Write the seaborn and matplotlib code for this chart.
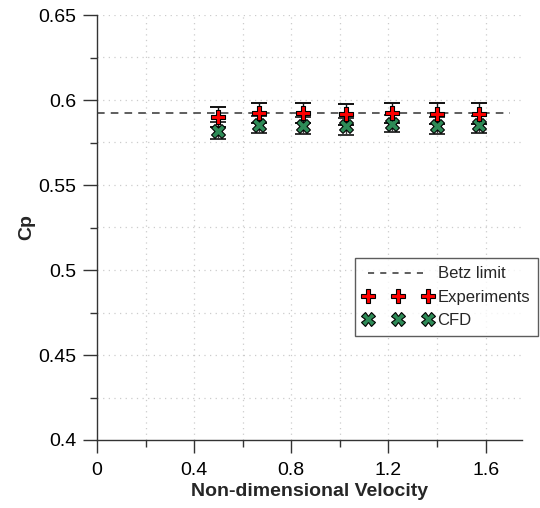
import numpy as np
import pandas as pd
import matplotlib
matplotlib.use("Agg")
import matplotlib.pyplot as plt
from matplotlib.lines import Line2D
from matplotlib.ticker import MultipleLocator, FixedLocator
import seaborn as sns

# Data
velocity = [0.50, 0.665, 0.848, 1.025, 1.215, 1.40, 1.572]
cp_exp = [0.590, 0.5925, 0.5925, 0.5915, 0.5925, 0.592, 0.592]
cp_cfd = [0.582, 0.5855, 0.585, 0.5845, 0.586, 0.585, 0.5855]
err_exp = [0.006, 0.006, 0.006, 0.006, 0.006, 0.006, 0.006]
err_cfd = [0.005, 0.005, 0.005, 0.005, 0.005, 0.005, 0.005]
betz_x = [0.0, 1.70]
betz_cp = [16 / 27, 16 / 27]

x_ticks = [0, 0.4, 0.8, 1.2, 1.6]
x_ticklabels = ["0", "0.4", "0.8", "1.2", "1.6"]
y_ticks = [0.4, 0.45, 0.5, 0.55, 0.6, 0.65]
y_ticklabels = ["0.4", "0.45", "0.5", "0.55", "0.6", "0.65"]

sns.set_theme(style="white")
plt.rcParams["font.family"] = ["Liberation Sans", "DejaVu Sans"]

fig = plt.figure(figsize=(5.4, 5.08), dpi=100)
ax = fig.add_axes([97 / 540, 1 - 440 / 508, 425 / 540, 425 / 508])

df = pd.DataFrame({"v": velocity, "exp": cp_exp, "cfd": cp_cfd})
betz_df = pd.DataFrame({"v": betz_x, "cp": betz_cp})

# grid
for gx in np.arange(0.2, 1.75, 0.2):
    ax.axvline(gx, color="#cccccc", lw=0.9, ls=(0, (1, 3.5)), zorder=0)
for gy in np.arange(0.425, 0.651, 0.025):
    ax.axhline(gy, color="#cccccc", lw=0.9, ls=(0, (1, 3.5)), zorder=0)

sns.lineplot(data=betz_df, x="v", y="cp", ax=ax, color="#333333",
             lw=1.1, linestyle=(0, (5, 4)), zorder=2)

ax.errorbar(velocity, cp_cfd, yerr=err_cfd, fmt="none", ecolor="#333333",
            elinewidth=1.0, capsize=5.5, capthick=1.4, zorder=3)
ax.errorbar(velocity, cp_exp, yerr=err_exp, fmt="none", ecolor="#111111",
            elinewidth=1.0, capsize=5.5, capthick=1.4, zorder=3)

sns.scatterplot(data=df, x="v", y="cfd", ax=ax, marker="X", s=100,
                color="#2e8b57", edgecolor="black", linewidth=0.8, zorder=4)
sns.scatterplot(data=df, x="v", y="exp", ax=ax, marker="P", s=105,
                color="#ff0000", edgecolor="black", linewidth=0.8, zorder=5)

ax.set_xlim(0, 1.75)
ax.set_ylim(0.4, 0.65)
ax.xaxis.set_major_locator(FixedLocator(x_ticks))
ax.set_xticklabels(x_ticklabels)
ax.xaxis.set_minor_locator(MultipleLocator(0.2))
ax.yaxis.set_major_locator(FixedLocator(y_ticks))
ax.set_yticklabels(y_ticklabels)
ax.yaxis.set_minor_locator(MultipleLocator(0.025))

ax.tick_params(axis="both", which="major", direction="out", length=10,
               width=1.0, color="#333333", labelsize=14, labelcolor="black",
               bottom=True, left=True)
ax.tick_params(axis="y", which="major", pad=5)
ax.tick_params(axis="x", which="major", pad=6, length=9.5)
ax.tick_params(axis="both", which="minor", direction="out", length=5,
               width=1.0, color="#333333", bottom=True, left=True)

for s in ["top", "right"]:
    ax.spines[s].set_visible(False)
for s in ["left", "bottom"]:
    ax.spines[s].set_color("#333333")
    ax.spines[s].set_linewidth(1.0)

ax.set_xlabel("Non-dimensional Velocity", fontsize=14, fontweight="bold", labelpad=3)
ax.set_ylabel("Cp", fontsize=14, fontweight="bold", labelpad=2)

handles = [
    Line2D([], [], color="#333333", lw=1.1, linestyle=(0, (4, 4))),
    Line2D([], [], color="#ff0000", marker="P", markersize=9.5,
           markeredgecolor="black", markeredgewidth=0.8, linestyle="none"),
    Line2D([], [], color="#2e8b57", marker="X", markersize=9.5,
           markeredgecolor="black", markeredgewidth=0.8, linestyle="none"),
]
leg = ax.legend(handles, ["Betz limit", "Experiments", "CFD"], numpoints=3,
                loc="upper left", bbox_to_anchor=(355 / 540, 1 - 258 / 508),
                bbox_transform=fig.transFigure, borderaxespad=0,
                fontsize=12, handlelength=4.15, handletextpad=0.3,
                labelspacing=0.5, frameon=True, fancybox=False,
                borderpad=0.5)
leg.get_frame().set_edgecolor("#333333")
leg.get_frame().set_linewidth(1.0)

fig.savefig("out.png", dpi=100)
